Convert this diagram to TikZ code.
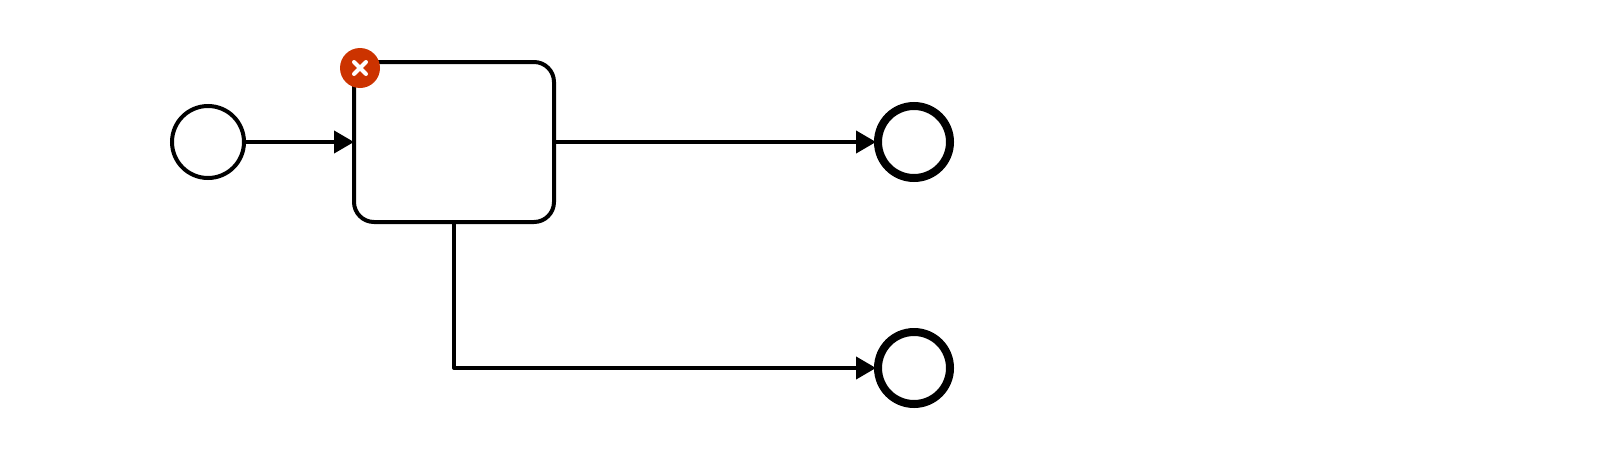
\documentclass[tikz,border=0pt]{standalone}
\usetikzlibrary{arrows.meta}
\definecolor{badge}{RGB}{204,51,0}
\tikzset{
  x=1pt,y=-1pt,
  startev/.style={draw=black,fill=white,circle,line width=4pt,minimum size=72pt,inner sep=0pt},
  endev/.style={draw=black,fill=white,circle,line width=8pt,minimum size=72pt,inner sep=0pt},
  taskbox/.style={draw=black,fill=white,rectangle,rounded corners=20pt,line width=4pt,minimum width=200pt,minimum height=160pt,inner sep=0pt},
  flow/.style={draw=black,line width=4pt,line join=round,shorten >=-2pt,-{Triangle[length=20pt,width=22pt]}},
  badgedot/.style={circle,fill=badge,minimum size=40pt,inner sep=0pt,outer sep=0pt},
  crossline/.style={draw=white,line width=4pt,line cap=round}
}
\begin{document}
\begin{tikzpicture}
\useasboundingbox (0,0) rectangle (1600,466);
\node[startev] (s) at (208,142) {};
\node[taskbox] (t) at (454,142) {};
\node[endev] (e1) at (914,142) {};
\node[endev] (e2) at (914,368) {};
\draw[flow] (s) -- (t);
\draw[flow] (t) -- (e1);
\draw[flow] (t.south) |- (e2);
\node[badgedot] (b) at (360,68) {};
\coordinate (c1) at (354,62);
\coordinate (c2) at (366,74);
\coordinate (c3) at (366,62);
\coordinate (c4) at (354,74);
\draw[crossline] (c1) -- (c2);
\draw[crossline] (c3) -- (c4);
\end{tikzpicture}
\end{document}
